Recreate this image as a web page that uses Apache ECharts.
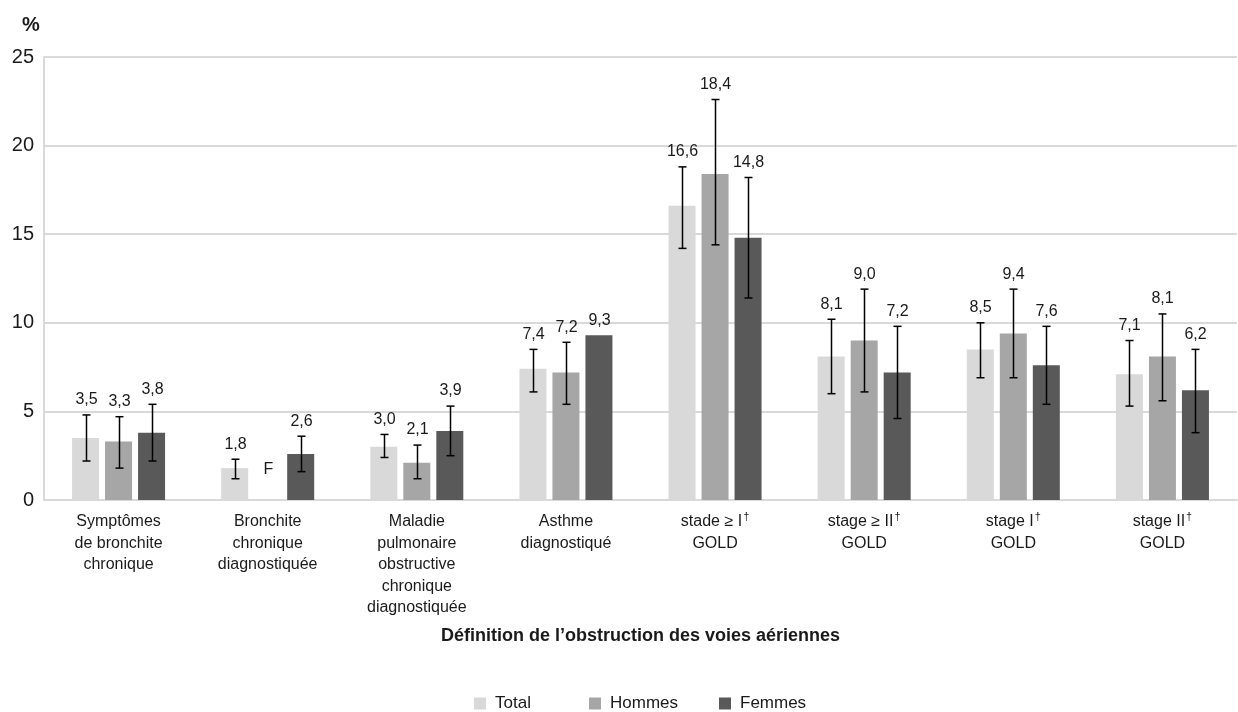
<!DOCTYPE html>
<html>
<head>
<meta charset="utf-8">
<script src="https://cdn.jsdelivr.net/npm/echarts@6/dist/echarts.min.js"></script>
<style>
  html, body { margin: 0; padding: 0; background: #fff; }
  #chart { width: 1238px; height: 712px; }
</style>
</head>
<body>
<div id="chart"></div>
<script>
// Prevalence of airway obstruction by definition and sex (%), with 95% confidence intervals
const categories = [
  'Symptômes\nde bronchite\nchronique',
  'Bronchite\nchronique\ndiagnostiquée',
  'Maladie\npulmonaire\nobstructive\nchronique\ndiagnostiquée',
  'Asthme\ndiagnostiqué',
  'stade ≥ I†\nGOLD',
  'stage ≥ II†\nGOLD',
  'stage I†\nGOLD',
  'stage II†\nGOLD'
];
const seriesNames = ['Total', 'Hommes', 'Femmes'];

const totalValues = [3.5, 1.8, 3.0, 7.4, 16.6, 8.1, 8.5, 7.1];
const menValues   = [3.3, null, 2.1, 7.2, 18.4, 9.0, 9.4, 8.1];
const womenValues = [3.8, 2.6, 3.9, 9.3, 14.8, 7.2, 7.6, 6.2];

const totalLow  = [2.2, 1.2, 2.4, 6.1, 14.2, 6.0, 6.9, 5.3];
const totalHigh = [4.8, 2.3, 3.7, 8.5, 18.8, 10.2, 10.0, 9.0];
const menLow    = [1.8, null, 1.2, 5.4, 14.4, 6.1, 6.9, 5.6];
const menHigh   = [4.7, null, 3.1, 8.9, 22.6, 11.9, 11.9, 10.5];
const womenLow  = [2.2, 1.6, 2.5, null, 11.4, 4.6, 5.4, 3.8];
const womenHigh = [5.4, 3.6, 5.3, null, 18.2, 9.8, 9.8, 8.5];

// Estimate too unreliable to be published
const suppressedLabel = 'F';

const yTicks = { min: 0, max: 25, interval: 5 };

const colors = ['#d9d9d9', '#a6a6a6', '#595959'];
const FONT = '"Liberation Sans", Arial, sans-serif';
const TEXT = '#1a1a1a';
const BAR_W = 27;
const BAR_GAP = 6;

const groups = [
  { values: totalValues, low: totalLow, high: totalHigh },
  { values: menValues,   low: menLow,   high: menHigh },
  { values: womenValues, low: womenLow, high: womenHigh }
];

function fmt(v) {
  return v.toFixed(1).replace('.', ',');
}

function barSeries(k) {
  return {
    name: seriesNames[k],
    type: 'bar',
    data: groups[k].values,
    barWidth: BAR_W,
    barGap: (BAR_GAP / BAR_W * 100) + '%',
    itemStyle: { color: colors[k] },
    emphasis: { disabled: true },
    z: 2
  };
}

// Confidence-interval whiskers and value labels, placed over each bar
function errorSeries(k) {
  const g = groups[k];
  return {
    type: 'custom',
    data: categories.map((_, i) => [i, g.values[i] == null ? 0 : g.values[i]]),
    z: 5,
    silent: true,
    renderItem(params, api) {
      const i = api.value(0);
      const offset = (k - 1) * (BAR_W + BAR_GAP);
      const x = Math.round(api.coord([i, 0])[0] + offset) + 0.5;
      const v = g.values[i], lo = g.low[i], hi = g.high[i];
      const children = [];
      let anchorY;
      if (lo != null && hi != null) {
        const yLo = api.coord([i, lo])[1];
        const yHi = api.coord([i, hi])[1];
        const st = { stroke: '#000', lineWidth: 1.5 };
        children.push({ type: 'line', shape: { x1: x, y1: yLo, x2: x, y2: yHi }, style: st });
        children.push({ type: 'line', shape: { x1: x - 4, y1: yHi, x2: x + 4, y2: yHi }, style: st });
        children.push({ type: 'line', shape: { x1: x - 4, y1: yLo, x2: x + 4, y2: yLo }, style: st });
        anchorY = yHi - 7;
      } else if (v != null) {
        anchorY = api.coord([i, v])[1] - 7;
      } else {
        anchorY = api.coord([i, 0])[1] - 22;
      }
      children.push({
        type: 'text',
        style: {
          x: x,
          y: anchorY,
          text: v == null ? suppressedLabel : fmt(v),
          align: 'center',
          verticalAlign: 'bottom',
          fontSize: 16,
          fontFamily: FONT,
          fill: TEXT
        }
      });
      return { type: 'group', children };
    }
  };
}

const chart = echarts.init(document.getElementById('chart'), null, { renderer: 'canvas' });

const legendLefts = [474, 589, 719];

chart.setOption({
  animation: false,
  backgroundColor: '#fff',
  grid: { left: 44, right: 1, top: 57, bottom: 212 },
  graphic: [{
    type: 'text',
    left: 22,
    top: 15,
    style: { text: '%', fontSize: 20, fontWeight: 'bold', fontFamily: FONT, fill: TEXT }
  }],
  legend: seriesNames.map((name, k) => ({
    data: [name],
    left: legendLefts[k],
    top: 695,
    padding: 0,
    icon: 'rect',
    itemWidth: 12,
    itemHeight: 12,
    itemGap: 0,
    selectedMode: false,
    textStyle: { fontSize: 17, fontFamily: FONT, color: TEXT, padding: [0, 0, 0, 4] }
  })),
  xAxis: {
    type: 'category',
    data: categories,
    name: 'Définition de l’obstruction des voies aériennes',
    nameLocation: 'middle',
    nameGap: 127,
    nameTextStyle: { fontSize: 18, fontWeight: 'bold', fontFamily: FONT, color: TEXT },
    axisLine: { show: true, lineStyle: { color: '#d9d9d9', width: 2 } },
    axisTick: { show: false },
    axisLabel: {
      interval: 0,
      margin: 11,
      fontSize: 16,
      lineHeight: 21.5,
      fontFamily: FONT,
      color: TEXT,
      formatter: (s) => s.replace(/†/g, '{sup|†}'),
      rich: {
        sup: { fontSize: 11, fontFamily: FONT, color: TEXT, verticalAlign: 'top', lineHeight: 21.5, padding: [0, 0, 6, 1] }
      }
    }
  },
  yAxis: {
    type: 'value',
    min: yTicks.min,
    max: yTicks.max,
    interval: yTicks.interval,
    axisLine: { show: true, lineStyle: { color: '#d9d9d9', width: 2 } },
    axisTick: { show: false },
    axisLabel: { fontSize: 20, fontFamily: FONT, color: TEXT, margin: 10 },
    splitLine: { show: true, lineStyle: { color: '#d9d9d9', width: 2 } }
  },
  series: [
    barSeries(0), barSeries(1), barSeries(2),
    errorSeries(0), errorSeries(1), errorSeries(2)
  ]
});
</script>
</body>
</html>
